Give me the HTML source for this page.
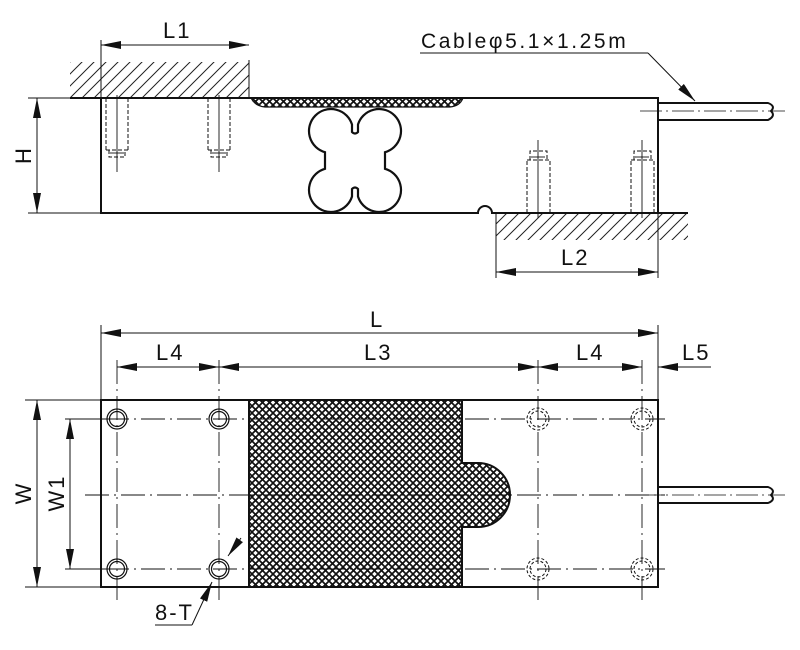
<!DOCTYPE html>
<html><head><meta charset="utf-8"><style>
html,body{margin:0;padding:0;background:#fff;}
svg{display:block;}
text{font-family:"Liberation Sans",Arial,sans-serif;fill:#111;}
</style></head><body>
<svg width="800" height="650" viewBox="0 0 800 650" xmlns="http://www.w3.org/2000/svg">
<defs>
<pattern id="mesh" width="7" height="7" patternUnits="userSpaceOnUse">
<path d="M0,0L7,7M7,0L0,7" stroke="#111" stroke-width="1.7"/>
</pattern>
<pattern id="hatch" width="12" height="12" patternUnits="userSpaceOnUse">
<path d="M0,12L12,0M-3,3L3,-3M9,15L15,9" stroke="#222" stroke-width="1"/>
</pattern>
<marker id="ar" viewBox="0 0 20 8" refX="20" refY="4" markerWidth="20" markerHeight="8" markerUnits="userSpaceOnUse" orient="auto-start-reverse">
<path d="M0,0L20,4L0,8z" fill="#111"/>
</marker>
</defs>
<g stroke="#111" fill="none">
<!-- TOP VIEW -->
<rect x="70" y="62" width="179" height="36" fill="url(#hatch)" stroke="none"/>
<line x1="70" y1="98" x2="249" y2="98" stroke-width="2"/>
<line x1="249" y1="60" x2="249" y2="98" stroke-width="1"/>
<rect x="496" y="213" width="192" height="27" fill="url(#hatch)" stroke="none"/>
<line x1="496" y1="213" x2="688" y2="213" stroke-width="2"/>
<path d="M101,98 H658 V213 H492 A7,7 0 0 0 478,213 H101 Z" stroke-width="2"/>
<path d="M251,98 Q255,106 265,107 H450 Q460,106 463,98 Z" fill="url(#mesh)" stroke-width="1.2"/>
<!-- clover -->
<path d="M352,124.5 A22,22 0 1 0 325,152.2 L325,168.8 A22,22 0 1 0 352,196.5 L352,189 Q355,186 358,189 L358,196.5 A22,22 0 1 0 385,168.8 L385,152.2 A22,22 0 1 0 358,124.5 L358,132 Q355,135 352,132 Z" stroke-width="2.2"/>
<g stroke-width="1" stroke-dasharray="4,2">
<path d="M106,98 V150 M128,98 V150 M106,150 H128 M109,150 V157 H125 V150"/>
<path d="M208,98 V150 M230,98 V150 M208,150 H230 M211,150 V157 H227 V150"/>
<path d="M527,213 V160 M550,213 V160 M527,160 H550 M530,160 V151 H547 V160"/>
<path d="M631,213 V160 M654,213 V160 M631,160 H654 M634,160 V151 H651 V160"/>
</g>
<g stroke-width="0.9">
<line x1="117" y1="95" x2="117" y2="172"/><line x1="219" y1="95" x2="219" y2="172"/>
<line x1="538" y1="140" x2="538" y2="218"/><line x1="642" y1="140" x2="642" y2="218"/>
<line x1="110" y1="153" x2="124" y2="153"/><line x1="212" y1="153" x2="226" y2="153"/>
<line x1="531" y1="157" x2="545" y2="157"/><line x1="635" y1="157" x2="649" y2="157"/>
</g>
<path d="M658,103 H768 Q776,106 771,111 Q776,116 768,120 H658" stroke-width="2"/>
<line x1="640" y1="111" x2="785" y2="111" stroke-width="0.8" stroke-dasharray="22,4,2,4"/>
<g stroke-width="1">
<line x1="101" y1="40" x2="101" y2="98"/>
<line x1="101" y1="45" x2="249" y2="45" marker-start="url(#ar)" marker-end="url(#ar)"/>
<line x1="28" y1="98" x2="101" y2="98"/><line x1="28" y1="213" x2="101" y2="213"/>
<line x1="37" y1="98" x2="37" y2="213" marker-start="url(#ar)" marker-end="url(#ar)"/>
<line x1="496" y1="213" x2="496" y2="278"/><line x1="658" y1="213" x2="658" y2="278"/>
<line x1="496" y1="272" x2="658" y2="272" marker-start="url(#ar)" marker-end="url(#ar)"/>
<line x1="420" y1="53" x2="648" y2="53"/>
<line x1="648" y1="53" x2="695" y2="101" marker-end="url(#ar)"/>
</g>
<!-- BOTTOM VIEW -->
<rect x="101" y="400" width="557" height="187" stroke-width="2"/>
<path d="M249,400 H462 V463 H478 A32,32 0 0 1 478,527 H462 V587 H249 Z" fill="url(#mesh)" stroke-width="2"/>
<g stroke-width="0.9" stroke-dasharray="24,5,2,5">
<line x1="85" y1="495" x2="665" y2="495"/>
<line x1="105" y1="419" x2="665" y2="419"/>
<line x1="105" y1="569" x2="665" y2="569"/>
<line x1="117" y1="360" x2="117" y2="605"/>
<line x1="219" y1="360" x2="219" y2="605"/>
<line x1="538" y1="360" x2="538" y2="605"/>
<line x1="642" y1="360" x2="642" y2="605"/>
</g>
<g stroke-width="1.2">
<circle cx="117" cy="419" r="10"/><circle cx="117" cy="419" r="7.5"/>
<circle cx="219" cy="419" r="10"/><circle cx="219" cy="419" r="7.5"/>
<circle cx="117" cy="569" r="10"/><circle cx="117" cy="569" r="7.5"/>
<circle cx="219" cy="569" r="10"/><circle cx="219" cy="569" r="7.5"/>
</g>
<g stroke-width="1" stroke-dasharray="3,2">
<circle cx="538" cy="419" r="11"/><circle cx="538" cy="419" r="8"/>
<circle cx="642" cy="419" r="11"/><circle cx="642" cy="419" r="8"/>
<circle cx="538" cy="569" r="11"/><circle cx="538" cy="569" r="8"/>
<circle cx="642" cy="569" r="11"/><circle cx="642" cy="569" r="8"/>
</g>
<path d="M658,487 H768 Q776,490 771,495 Q776,500 768,503 H658" stroke-width="2"/>
<line x1="640" y1="495" x2="785" y2="495" stroke-width="0.8" stroke-dasharray="22,4,2,4"/>
<g stroke-width="1">
<line x1="101" y1="325" x2="101" y2="400"/><line x1="658" y1="325" x2="658" y2="400"/>
<line x1="101" y1="333" x2="658" y2="333" marker-start="url(#ar)" marker-end="url(#ar)"/>
<line x1="117" y1="367" x2="219" y2="367" marker-start="url(#ar)" marker-end="url(#ar)"/>
<line x1="219" y1="367" x2="538" y2="367" marker-start="url(#ar)" marker-end="url(#ar)"/>
<line x1="538" y1="367" x2="642" y2="367" marker-start="url(#ar)" marker-end="url(#ar)"/>
<line x1="711" y1="367" x2="658" y2="367" marker-end="url(#ar)"/>
<line x1="25" y1="400" x2="101" y2="400"/><line x1="25" y1="587" x2="101" y2="587"/>
<line x1="37" y1="400" x2="37" y2="587" marker-start="url(#ar)" marker-end="url(#ar)"/>
<line x1="65" y1="419" x2="117" y2="419"/><line x1="65" y1="569" x2="117" y2="569"/>
<line x1="70" y1="419" x2="70" y2="569" marker-start="url(#ar)" marker-end="url(#ar)"/>
<line x1="155" y1="625" x2="192" y2="625"/>
<line x1="192" y1="625" x2="212" y2="582" marker-end="url(#ar)"/>
<line x1="241" y1="538" x2="228" y2="556" marker-end="url(#ar)"/>
</g>
</g>
<g font-size="22" letter-spacing="2">
<text x="163" y="38">L1</text>
<text x="561" y="265">L2</text>
<text transform="translate(31,155) rotate(-90)" text-anchor="middle">H</text>
<text x="421" y="48" font-size="21" letter-spacing="2.6">Cableφ5.1×1.25m</text>
<text x="370" y="327">L</text>
<text x="156" y="360">L4</text>
<text x="364" y="360">L3</text>
<text x="576" y="360">L4</text>
<text x="682" y="360">L5</text>
<text x="155" y="620">8-T</text>
<text transform="translate(31,493) rotate(-90)" text-anchor="middle">W</text>
<text transform="translate(64,493) rotate(-90)" text-anchor="middle">W1</text>
</g>
</svg>
</body></html>
